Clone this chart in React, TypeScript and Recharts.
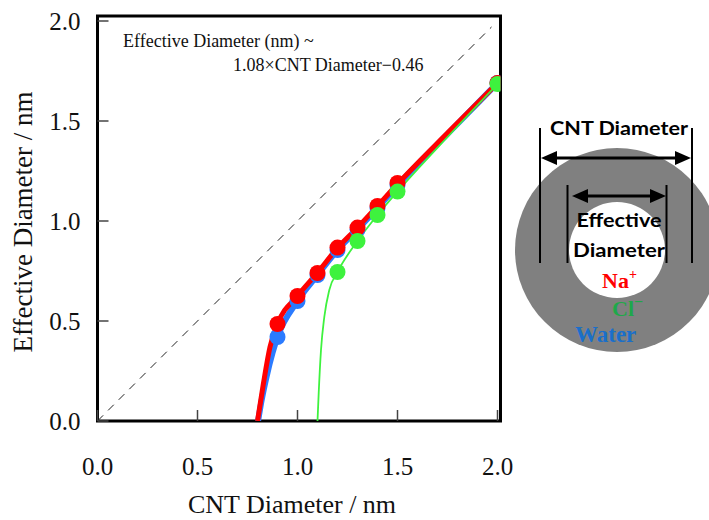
import { ComposedChart, Line, XAxis, YAxis, ReferenceArea } from 'recharts';

// measured points (nm)
const CNT_X = [0.9, 1.0, 1.1, 1.2, 1.3, 1.4, 1.5, 2.0];
const NA_Y = [0.485, 0.625, 0.74, 0.867, 0.967, 1.075, 1.19, 1.69];
const WATER_Y = [0.42, 0.6, 0.73, 0.855, 0.958, 1.065, 1.18, 1.69];
const CL_X = [1.2, 1.3, 1.4, 1.5, 2.0];
const CL_Y = [0.745, 0.9, 1.03, 1.147, 1.685];

// fitted curves
const NA_FIT_X = [0.8, 0.83, 0.8625, 0.9, 1.0, 1.1, 1.2, 1.3, 1.4, 1.5, 1.75, 2.0];
const NA_FIT_Y = [0, 0.19, 0.37, 0.485, 0.625, 0.742, 0.865, 0.967, 1.075, 1.185, 1.44, 1.69];
const WATER_FIT_X = [0.803, 0.82, 0.845, 0.875, 0.9, 1.0, 1.1, 1.2, 1.3, 1.4, 1.5, 1.75, 2.0];
const WATER_FIT_Y = [0, 0.1, 0.22, 0.34, 0.42, 0.6, 0.73, 0.855, 0.958, 1.065, 1.178, 1.435, 1.69];
const CL_FIT_X = [1.1, 1.106, 1.1175, 1.134, 1.159, 1.2, 1.3, 1.4, 1.5, 1.75, 2.0];
const CL_FIT_Y = [0, 0.14, 0.355, 0.52, 0.655, 0.745, 0.9, 1.03, 1.147, 1.42, 1.685];

const IDEAL_X = [0, 1.97];
const IDEAL_Y = [0, 1.97];

const TICKS = [0, 0.5, 1.0, 1.5, 2.0];

const toPts = (xs: number[], ys: number[]) => xs.map((x, i) => ({ x, y: ys[i] }));

const FONT = '"Liberation Serif", "Times New Roman", serif';

function XTick({ x, y, payload }: any) {
  return (
    <g>
      <line x1={x} y1={y} x2={x} y2={y - 11} stroke="#444" strokeWidth={1.5} />
      <text x={x} y={y + 54} textAnchor="middle" fontFamily={FONT} fontSize={25} fill="#111">
        {payload.value.toFixed(1)}
      </text>
    </g>
  );
}

function YTick({ x, y, payload }: any) {
  return (
    <g>
      <line x1={x} y1={y} x2={x + 11} y2={y} stroke="#444" strokeWidth={1.5} />
      <text x={x - 17} y={y + 9} textAnchor="end" fontFamily={FONT} fontSize={25} fill="#111">
        {payload.value.toFixed(1)}
      </text>
    </g>
  );
}

function Dot({ cx, cy, fill }: any) {
  if (cx == null || cy == null) return null;
  return <circle cx={cx} cy={cy} r={8} fill={fill} />;
}

const BLUE = '#2b7bff';
const RED = '#ff0000';
const GREEN = '#3ef23e';

function Diagram() {
  return (
    <svg width={709} height={520} style={{ position: 'absolute', left: 0, top: 0, pointerEvents: 'none' }}>
      {/* fit equation */}
      <text x={123} y={47} fontFamily={FONT} fontSize={18} fill="#111">
        Effective Diameter (nm) ~
      </text>
      <text x={233} y={71} fontFamily={FONT} fontSize={18} fill="#111">
        1.08×CNT Diameter−0.46
      </text>

      {/* axis titles */}
      <text x={292} y={513} textAnchor="middle" fontFamily={FONT} fontSize={26} fill="#111">
        CNT Diameter / nm
      </text>
      <text
        x={0}
        y={0}
        transform="translate(32 222) rotate(-90)"
        textAnchor="middle"
        fontFamily={FONT}
        fontSize={27}
        fill="#111"
      >
        Effective Diameter / nm
      </text>

      {/* nanotube cross section */}
      <circle cx={617} cy={250} r={102} fill="#808080" />
      <circle cx={617} cy={250} r={48} fill="#fff" />

      <line x1={540} y1={128} x2={540} y2={263} stroke="#000" strokeWidth={2} />
      <line x1={692} y1={128} x2={692} y2={263} stroke="#000" strokeWidth={2} />
      <line x1={567.5} y1={185} x2={567.5} y2={263} stroke="#000" strokeWidth={2} />
      <line x1={666.5} y1={185} x2={666.5} y2={263} stroke="#000" strokeWidth={2} />

      <line x1={552} y1={158} x2={680} y2={158} stroke="#000" strokeWidth={3} />
      <polygon points="541,158 557,151 557,165" fill="#000" />
      <polygon points="691,158 675,151 675,165" fill="#000" />

      <line x1={584} y1={196} x2={655} y2={196} stroke="#000" strokeWidth={3} />
      <polygon points="572,196 588,189 588,203" fill="#000" />
      <polygon points="666,196 650,189 650,203" fill="#000" />

      <text x={619} y={135} textAnchor="middle" fontFamily="Lato, sans-serif" fontWeight={700} fontSize={18}
        textLength={138} lengthAdjust="spacingAndGlyphs" fill="#000">
        CNT Diameter
      </text>
      <text x={619} y={227} textAnchor="middle" fontFamily="Lato, sans-serif" fontWeight={700} fontSize={18}
        textLength={85} lengthAdjust="spacingAndGlyphs" fill="#000">
        Effective
      </text>
      <text x={619} y={257} textAnchor="middle" fontFamily="Lato, sans-serif" fontWeight={700} fontSize={18}
        textLength={92} lengthAdjust="spacingAndGlyphs" fill="#000">
        Diameter
      </text>

      <text x={602} y={288} fontFamily={FONT} fontWeight={700} fontSize={22} fill="#ff0000">
        Na<tspan fontSize={14} dy={-9}>+</tspan>
      </text>
      <text x={612} y={316} fontFamily={FONT} fontWeight={700} fontSize={22} fill="#1fa84a">
        Cl<tspan fontSize={16} dy={-9}>−</tspan>
      </text>
      <text x={575} y={342} fontFamily={FONT} fontWeight={700} fontSize={23} fill="#1a6fca">
        Water
      </text>
    </svg>
  );
}

export default function App() {
  return (
    <div style={{ position: 'absolute', left: 0, top: 0, width: 709, height: 520, background: '#fff' }}>
      <ComposedChart width={709} height={520} margin={{ top: 16, right: 208.5, bottom: 0, left: 0 }}>
        <XAxis
          type="number"
          dataKey="x"
          domain={[0, 2.015]}
          ticks={TICKS}
          allowDataOverflow
          height={99}
          axisLine={false}
          tickLine={false}
          tickSize={0}
          tickMargin={0}
          tick={<XTick />}
        />
        <YAxis
          type="number"
          dataKey="y"
          domain={[0, 2.025]}
          ticks={TICKS}
          allowDataOverflow
          width={97.5}
          axisLine={false}
          tickLine={false}
          tickSize={0}
          tickMargin={0}
          tick={<YTick />}
        />
        <Line
          data={toPts(IDEAL_X, IDEAL_Y)}
          dataKey="y"
          stroke="#222"
          strokeWidth={1}
          strokeDasharray="8 7"
          dot={false}
          isAnimationActive={false}
        />
        <Line data={toPts(WATER_FIT_X, WATER_FIT_Y)} dataKey="y" type="monotone" stroke={BLUE} strokeWidth={6}
          dot={false} isAnimationActive={false} />
        <Line data={toPts(CNT_X, WATER_Y)} dataKey="y" stroke="none" dot={<Dot fill={BLUE} />}
          isAnimationActive={false} />
        <Line data={toPts(NA_FIT_X, NA_FIT_Y)} dataKey="y" type="monotone" stroke={RED} strokeWidth={5}
          dot={false} isAnimationActive={false} />
        <Line data={toPts(CNT_X, NA_Y)} dataKey="y" stroke="none" dot={<Dot fill={RED} />}
          isAnimationActive={false} />
        <Line data={toPts(CL_FIT_X, CL_FIT_Y)} dataKey="y" type="monotone" stroke={GREEN} strokeWidth={1.8}
          dot={false} isAnimationActive={false} />
        <Line data={toPts(CL_X, CL_Y)} dataKey="y" stroke="none" dot={<Dot fill={GREEN} />}
          isAnimationActive={false} />
        <ReferenceArea x1={0} x2={2.015} y1={0} y2={2.025} fill="none" stroke="#000" strokeWidth={3}
          ifOverflow="extendDomain" />
      </ComposedChart>
      <Diagram />
    </div>
  );
}
